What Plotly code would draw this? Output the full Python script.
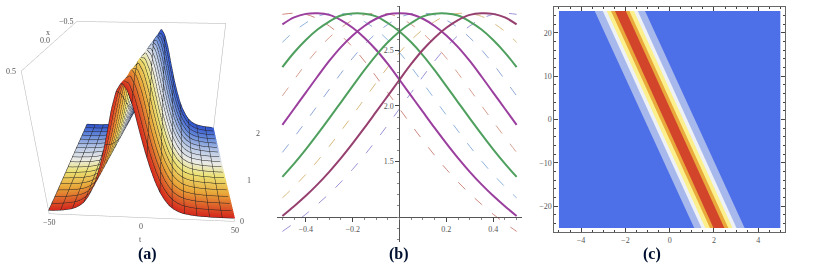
import plotly.graph_objects as go

# ---------- panel (a): surface ----------
t_values = [-50 + 2.5 * i for i in range(41)]
x_values = [0.5, 0.3333, 0.1667, 0.0, -0.1667, -0.3333, -0.5]
# height of the ridge, read outward from its crest in steps of 2.5 in t
ridge_flank = [2.85, 2.70, 2.38, 1.95, 1.55, 1.20, 0.90, 0.66, 0.48, 0.34, 0.25, 0.19, 0.15,
               0.13, 0.11, 0.10, 0.09, 0.09, 0.08, 0.08, 0.08, 0.08, 0.08, 0.08, 0.08, 0.08]
# the crest moves by one t step from one x row to the next
crest_index = [17, 18, 19, 20, 21, 22, 23]
surface_z = [[ridge_flank[abs(j - c)] for j in range(len(t_values))] for c in crest_index]
surface_colour = [[v for _ in t_values] for v in x_values]
surface_scale = [[0.0, "#2f55d8"], [0.18, "#6d92e6"], [0.36, "#c7d6f2"], [0.5, "#f7f7f2"],
                 [0.64, "#f8ee7a"], [0.8, "#f5b03c"], [1.0, "#e0291f"]]
t_ticks = [-50, 0, 50]
t_tick_text = ["−50", "0", "50"]
x_ticks = [-0.5, 0.0, 0.5]
x_tick_text = ["−0.5", "0.0", "0.5"]
z_ticks = [0, 1, 2]

# ---------- panel (b): curves ----------
xb = [-0.5, -0.45, -0.4, -0.35, -0.3, -0.25, -0.2, -0.15, -0.1, -0.05, 0.0,
      0.05, 0.1, 0.15, 0.2, 0.25, 0.3, 0.35, 0.4, 0.45, 0.5]
solid_000 = [1.83, 1.975, 2.12, 2.265, 2.405, 2.53, 2.635, 2.72, 2.785, 2.825, 2.835,
             2.825, 2.785, 2.72, 2.635, 2.53, 2.405, 2.265, 2.12, 1.975, 1.83]
solid_p18 = [1.361, 1.48, 1.609, 1.746, 1.888, 2.033, 2.178, 2.322, 2.456, 2.573, 2.671,
             2.747, 2.807, 2.831, 2.833, 2.814, 2.76, 2.688, 2.594, 2.481, 2.35]
solid_m18 = solid_p18[::-1]
solid_p36 = [1.009, 1.097, 1.191, 1.294, 1.407, 1.53, 1.663, 1.802, 1.946, 2.091, 2.236,
             2.378, 2.506, 2.615, 2.704, 2.773, 2.82, 2.835, 2.829, 2.797, 2.734]
solid_m36 = solid_p36[::-1]
dash_p09 = [1.582, 1.718, 1.859, 2.004, 2.149, 2.294, 2.431, 2.552, 2.653, 2.734, 2.797,
            2.829, 2.835, 2.82, 2.773, 2.704, 2.615, 2.506, 2.378, 2.236, 2.091]
dash_m09 = dash_p09[::-1]
dash_p27 = [1.172, 1.273, 1.384, 1.505, 1.636, 1.774, 1.917, 2.062, 2.207, 2.35, 2.481,
            2.594, 2.688, 2.76, 2.814, 2.833, 2.831, 2.807, 2.747, 2.671, 2.573]
dash_m27 = dash_p27[::-1]
dash_p45 = [0.87, 0.945, 1.025, 1.115, 1.21, 1.315, 1.43, 1.555, 1.69, 1.83, 1.975,
            2.12, 2.265, 2.405, 2.53, 2.635, 2.72, 2.785, 2.825, 2.835, 2.825]
dash_m45 = dash_p45[::-1]

# ---------- panel (c): bands, edges at t=25 and t=-25 ----------
band_names = ["pale", "white", "yellow", "orange", "red"]
band_colours = ["#a7b9ec", "#eef1f6", "#fbf08c", "#e9a93b", "#d2452b"]
edge_top_left = [-3.385, -3.02, -2.84, -2.65, -2.47]
edge_top_right = [-1.11, -1.44, -1.61, -1.82, -1.98]
edge_bot_left = [1.11, 1.44, 1.61, 1.82, 1.98]
edge_bot_right = [3.385, 3.02, 2.84, 2.65, 2.47]

fig = go.Figure()
fig.add_trace(go.Surface(
    x=t_values, y=x_values, z=surface_z, surfacecolor=surface_colour,
    colorscale=surface_scale, cmin=-0.5, cmax=0.5, showscale=False, scene="scene",
    lighting=dict(ambient=0.95, diffuse=0.1, specular=0.0, roughness=1.0),
    contours=dict(
        x=dict(show=True, start=-50, end=50, size=6.667, color="#222", width=1),
        y=dict(show=True, start=-0.5, end=0.5, size=0.0588, color="#222", width=1),
    ),
))

axb = dict(xaxis="x", yaxis="y")
for vals, col in [(dash_m45, "#d08a80"), (dash_p45, "#9a94d8"), (dash_m27, "#8fb4dc"),
                  (dash_p27, "#d9bb80"), (dash_m09, "#d7a090"), (dash_p09, "#8fa8d8")]:
    fig.add_trace(go.Scatter(x=xb, y=vals, mode="lines", line=dict(color=col, width=1, dash="10px,13px", shape="spline"),
                             showlegend=False, **axb))
for vals, col in [(solid_m36, "#9b3f9f"), (solid_m18, "#4f9f5e"), (solid_000, "#9b3f9f"),
                  (solid_p18, "#4f9f5e"), (solid_p36, "#96406f")]:
    fig.add_trace(go.Scatter(x=xb, y=vals, mode="lines", line=dict(color=col, width=2, shape="spline"),
                             showlegend=False, **axb))

axc = dict(xaxis="x2", yaxis="y2")
fig.add_trace(go.Scatter(x=[-5, 5, 5, -5], y=[25, 25, -25, -25], fill="toself", fillcolor="#4d6fe8",
                         mode="none", showlegend=False, **axc))
for name, col, a, b, c, d in zip(band_names, band_colours, edge_top_left, edge_top_right, edge_bot_right, edge_bot_left):
    fig.add_trace(go.Scatter(x=[a, b, c, d], y=[25, 25, -25, -25], fill="toself", fillcolor=col,
                             mode="none", name=name, showlegend=False, **axc))

W, H = 828, 280
tickfont = dict(family="Liberation Serif", size=8, color="#555")
scene_notes = []
for v, s in zip(t_ticks, t_tick_text):
    scene_notes.append(dict(x=v, y=0.5, z=0, text=s, showarrow=False, yshift=-9, font=tickfont))
for v, s in zip(x_ticks, x_tick_text):
    scene_notes.append(dict(x=-50, y=v, z=3.0, text=s, showarrow=False, xshift=-10, font=tickfont))
for v in z_ticks:
    scene_notes.append(dict(x=50, y=0.5, z=v, text=str(v), showarrow=False, xshift=7, font=tickfont))
scene_notes.append(dict(x=0, y=0.5, z=0, text="t", showarrow=False, yshift=-22, font=tickfont))
scene_notes.append(dict(x=-50, y=-0.18, z=3.0, text="x", showarrow=False, xshift=-16, font=tickfont))
axis3d = dict(showgrid=False, zeroline=False, showbackground=False, showline=True, mirror=True,
              linecolor="#b0b0b0", showticklabels=False, ticks="", title=dict(text=""))
fig.update_layout(
    width=W, height=H, margin=dict(l=0, r=0, t=0, b=0), paper_bgcolor="white", plot_bgcolor="white",
    showlegend=False,
    scene=dict(
        domain=dict(x=[5 / W, 287 / W], y=[0, 1]),
        aspectmode="manual", aspectratio=dict(x=1.3, y=1.3, z=1.05),
        camera=dict(eye=dict(x=0.14, y=-2.4, z=1.15), center=dict(x=0, y=0, z=-0.28), up=dict(x=0, y=0, z=1)),
        xaxis=dict(range=[-50, 50], **axis3d),
        yaxis=dict(range=[0.5, -0.5], **axis3d),
        zaxis=dict(range=[0, 3.0], **axis3d),
        annotations=scene_notes,
    ),
    xaxis=dict(domain=[277 / W, 522 / W], range=[-0.523, 0.523], anchor="free", position=1 - 217.3 / H,
               tickvals=[-0.4, -0.2, 0.2, 0.4], ticktext=["−0.4", "−0.2", "0.2", "0.4"], ticks="outside", ticklen=4,
               tickfont=tickfont, showgrid=False, zeroline=False, showline=True, linecolor="#555", linewidth=1,
               minor=dict(dtick=0.05, ticks="outside", ticklen=2, tickcolor="#888")),
    yaxis=dict(domain=[1 - 242 / H, 1 - 6 / H], range=[0.775, 2.9], anchor="free", position=399.4 / W,
               tickvals=[1.5, 2.0, 2.5], ticktext=["1.5", "2.0", "2.5"], ticks="outside", ticklen=4,
               tickfont=tickfont, showgrid=False, zeroline=False, showline=True, linecolor="#555", linewidth=1,
               minor=dict(dtick=0.1, ticks="outside", ticklen=2, tickcolor="#888")),
    xaxis2=dict(domain=[554.3 / W, 785 / W], range=[-5.21, 5.21], anchor="y2", tickvals=[-4, -2, 0, 2, 4],
                ticktext=["−4", "−2", "0", "2", "4"], ticks="inside", ticklen=4, mirror="ticks",
                tickfont=tickfont, showgrid=False, zeroline=False, showline=True, linecolor="#666", linewidth=1,
                minor=dict(dtick=0.5, ticks="inside", ticklen=2)),
    yaxis2=dict(domain=[1 - 232.3 / H, 1 - 6.7 / H], range=[-26, 26], anchor="x2", tickvals=[-20, -10, 0, 10, 20],
                ticktext=["−20", "−10", "0", "10", "20"], ticks="inside", ticklen=4, mirror="ticks",
                tickfont=tickfont, showgrid=False, zeroline=False, showline=True, linecolor="#666", linewidth=1,
                minor=dict(dtick=2, ticks="inside", ticklen=2)),
    annotations=[
        dict(text="<b>(a)</b>", x=136 / W, y=1 - 265 / H, xref="paper", yref="paper", showarrow=False,
             font=dict(family="Liberation Serif", size=16, color="#001030")),
        dict(text="<b>(b)</b>", x=399 / W, y=1 - 265 / H, xref="paper", yref="paper", showarrow=False,
             font=dict(family="Liberation Serif", size=16, color="#001030")),
        dict(text="<b>(c)</b>", x=662.7 / W, y=1 - 265 / H, xref="paper", yref="paper", showarrow=False,
             font=dict(family="Liberation Serif", size=16, color="#001030")),
    ],
)
fig.write_html("out.html", post_script="document.body.style.margin='0';", config=dict(displayModeBar=False))
